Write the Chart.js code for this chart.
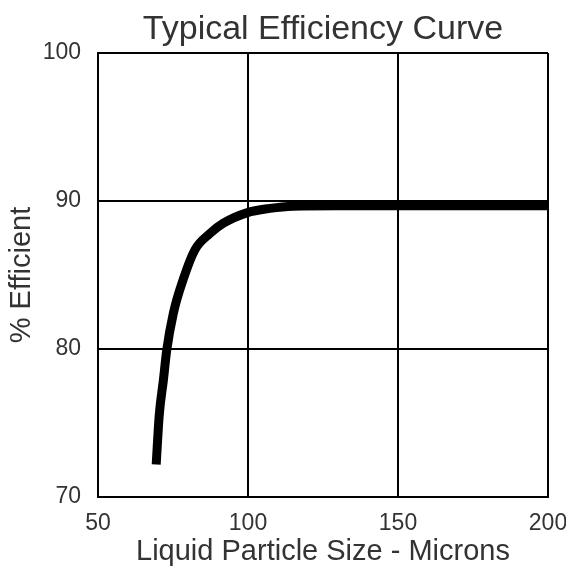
<!DOCTYPE html>
<html>
<head>
<meta charset="utf-8">
<script src="https://cdn.jsdelivr.net/npm/chart.js@4"></script>
<style>
  html, body { margin: 0; padding: 0; background: #fff; }
  #wrap { width: 566px; height: 574px; }
</style>
</head>
<body>
<div id="wrap"><canvas id="chart" width="566" height="574"></canvas></div>
<script>
// particle size (microns) vs efficiency (%)
const particleSize = [69.4, 70.4, 71.8, 72.9, 75.1, 78.4, 82.3, 87.3, 91.8, 99.6, 107.3, 115, 130, 160, 200];
const efficiency = [72.2, 75.5, 77.9, 79.9, 82.4, 84.7, 86.7, 87.8, 88.5, 89.2, 89.5, 89.65, 89.68, 89.68, 89.68];

const xTicks = [50, 100, 150, 200];
const yTicks = [70, 80, 90, 100];

const points = particleSize.map((x, i) => ({ x: x, y: efficiency[i] }));

Chart.defaults.font.family = "'Liberation Sans', Arial, sans-serif";
Chart.defaults.color = '#333';

new Chart(document.getElementById('chart'), {
  type: 'line',
  data: {
    datasets: [{
      data: points,
      borderColor: '#000',
      borderWidth: 9,
      borderCapStyle: 'butt',
      pointRadius: 0,
      fill: false,
      cubicInterpolationMode: 'monotone'
    }]
  },
  options: {
    responsive: false,
    animation: false,
    layout: { padding: { left: 0, right: 18, top: 0, bottom: 0 } },
    plugins: {
      legend: { display: false },
      tooltip: { enabled: false },
      title: {
        display: true,
        text: 'Typical Efficiency Curve',
        fullSize: false,
        font: { size: 34, weight: 'normal', lineHeight: 1 },
        color: '#333',
        padding: { top: 13, bottom: 6 }
      }
    },
    scales: {
      x: {
        type: 'linear',
        min: 50,
        max: 200,
        afterBuildTicks: axis => { axis.ticks = xTicks.map(v => ({ value: v })); },
        afterFit: axis => {
          axis.height = 77;
          axis.paddingLeft = 0;
          axis.paddingRight = 0;
        },
        grid: { color: '#000', lineWidth: 2, drawTicks: false },
        border: { display: true, color: '#000', width: 2 },
        ticks: { font: { size: 23 }, color: '#333', padding: 13, maxRotation: 0 },
        title: {
          display: true,
          text: 'Liquid Particle Size - Microns',
          font: { size: 29 },
          color: '#333',
          padding: { top: 0, bottom: 5 }
        }
      },
      y: {
        type: 'linear',
        min: 70,
        max: 100,
        afterBuildTicks: axis => { axis.ticks = yTicks.map(v => ({ value: v })); },
        afterFit: axis => {
          axis.width = 98;
          axis.paddingTop = 0;
          axis.paddingBottom = 0;
        },
        grid: { color: '#000', lineWidth: 2, drawTicks: false },
        border: { display: true, color: '#000', width: 2 },
        ticks: { font: { size: 23 }, color: '#333', padding: 17 },
        title: {
          display: true,
          text: '% Efficient',
          font: { size: 29 },
          color: '#333',
          padding: { top: 5, bottom: 0 }
        }
      }
    }
  }
});
</script>
</body>
</html>
